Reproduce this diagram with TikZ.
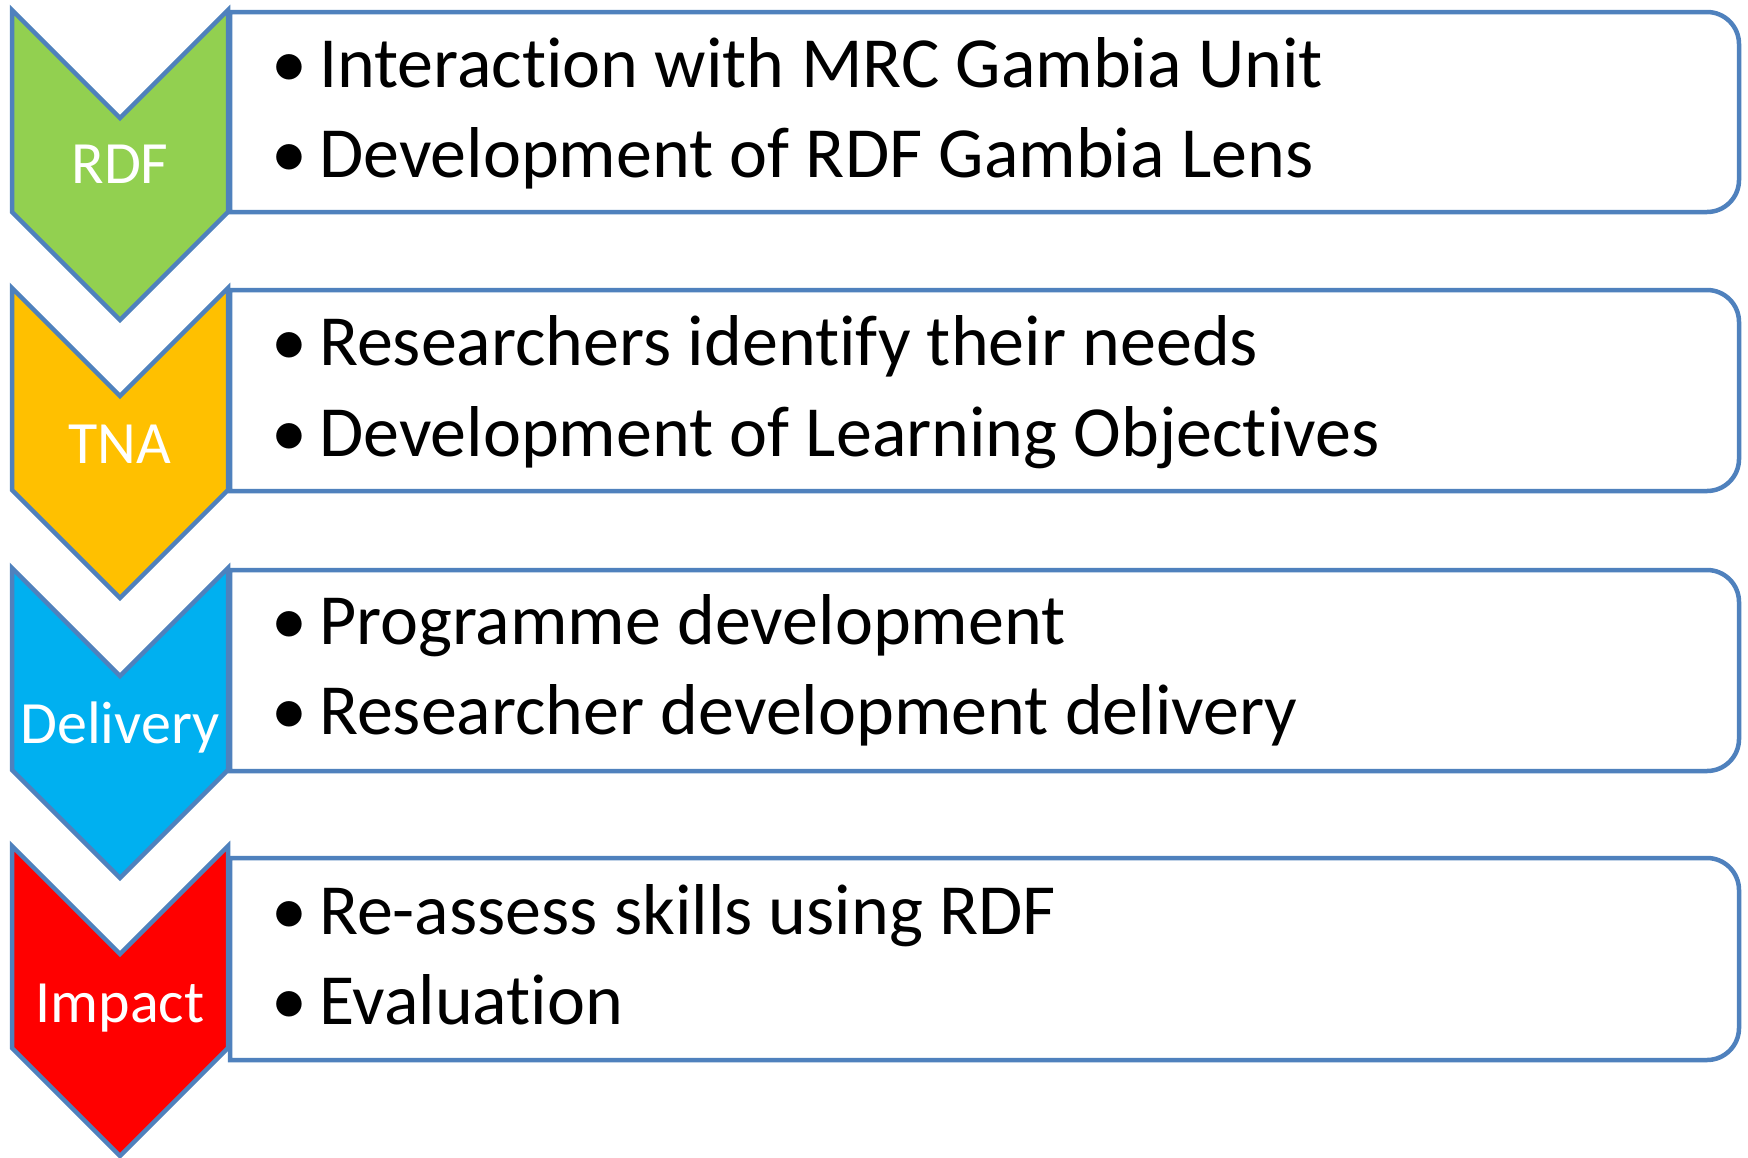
\documentclass[tikz,border=0pt]{standalone}
\usepackage{fontspec}
\setmainfont{Carlito}[Ligatures=NoCommon]
\definecolor{edge}{HTML}{4F81BD}
\definecolor{stageA}{HTML}{92D050}
\definecolor{stageB}{HTML}{FFC000}
\definecolor{stageC}{HTML}{00B0F0}
\definecolor{stageD}{HTML}{FF0000}
\newcommand{\chevron}[3]{% top y, fill colour, name
  \filldraw[chev, fill=#2] (12,#1) -- (120,#1+108) -- (228,#1) -- (228,#1+202)
    -- (120,#1+310) -- (12,#1+202) -- cycle;
  \coordinate (#3) at (120,#1+156);
}
\newcommand{\stagebox}[3]{% top y, bottom y, name
  \draw[panel] (230,#1) {[rounded corners=32pt] -- (1739,#1) -- (1739,#2)} -- (230,#2) -- cycle;
  \coordinate (#3) at (230,#1);
}
\begin{document}
\begin{tikzpicture}[x=1pt, y=-1pt,
  chev/.style={draw=edge, line width=4.5pt, line join=miter},
  panel/.style={draw=edge, line width=4.5pt, fill=white},
  stagelabel/.style={text=white, font=\fontsize{60}{61}\selectfont, inner sep=0pt, anchor=base},
  bullettext/.style={text=black, font=\fontsize{72}{74}\selectfont, inner sep=0pt, anchor=base west}]
  \useasboundingbox (0,0) rectangle (1748,1157);
  \fill[white] (0,0) rectangle (1748,1157);

  % panels behind the chevrons
  \stagebox{12}{212}{p1}
  \stagebox{290}{491}{p2}
  \stagebox{570}{771}{p3}
  \stagebox{858}{1060}{p4}

  \chevron{10}{stageA}{c1}
  \chevron{288}{stageB}{c2}
  \chevron{568}{stageC}{c3}
  \chevron{846}{stageD}{c4}

  % stage names
  \node[stagelabel] (l1) at (120,183) {RDF};
  \node[stagelabel] (l2) at (120,463) {TNA};
  \node[stagelabel] (l3) at (120,743) {Delivery};
  \node[stagelabel] (l4) at (120,1022) {Impact};

  % bullet points
  \newcommand{\bl}{\makebox[48pt][l]{•}}
  \node[bullettext] (t11) at (271,87)  {\bl Interaction with MRC Gambia Unit};
  \node[bullettext] (t12) at (271,177) {\bl Development of RDF Gambia Lens};
  \node[bullettext] (t21) at (271,365) {\bl Researchers identify their needs};
  \node[bullettext] (t22) at (271,456) {\bl Development of Learning Objectives};
  \node[bullettext] (t31) at (271,644) {\bl Programme development};
  \node[bullettext] (t32) at (271,734) {\bl Researcher development delivery};
  \node[bullettext] (t41) at (271,934) {\bl Re-assess skills using RDF};
  \node[bullettext] (t42) at (271,1024) {\bl Evaluation};
\end{tikzpicture}
\end{document}
